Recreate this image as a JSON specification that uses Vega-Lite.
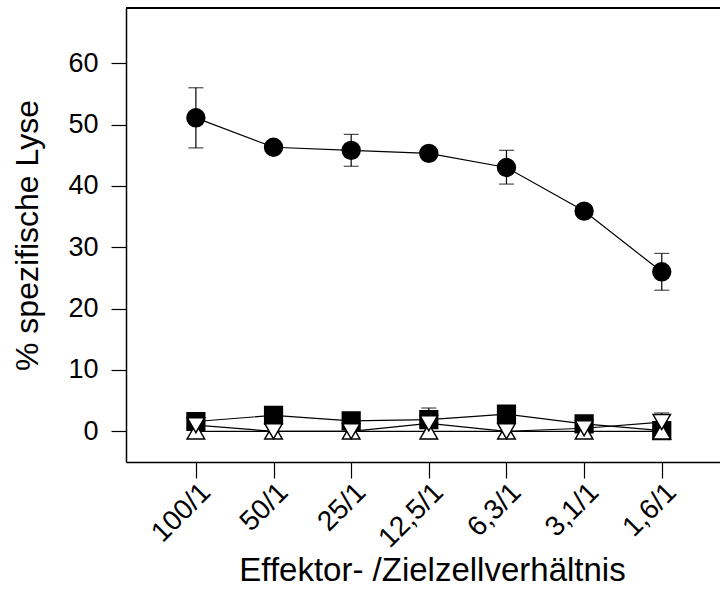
{
  "$schema": "https://vega.github.io/schema/vega-lite/v6.json",
  "width": 594,
  "height": 454,
  "autosize": {"type": "none"},
  "padding": {"left": 126, "top": 8, "right": 0, "bottom": 137},
  "background": "white",
  "config": {
    "view": {"stroke": null},
    "font": "Liberation Sans",
    "axis": {
      "grid": false,
      "domainColor": "black",
      "domainWidth": 1.5,
      "tickColor": "black",
      "tickWidth": 1.2,
      "labelColor": "black",
      "titleColor": "black",
      "titleFontWeight": "normal",
      "labelFont": "Liberation Sans",
      "titleFont": "Liberation Sans"
    }
  },
  "data": {
    "values": [
      {"series": "Serie 1", "pos": 1, "ratio": "100/1", "value": 51.1, "lo": 46.2, "hi": 56.0},
      {"series": "Serie 1", "pos": 2, "ratio": "50/1", "value": 46.3, "lo": null, "hi": null},
      {"series": "Serie 1", "pos": 3, "ratio": "25/1", "value": 45.8, "lo": 43.2, "hi": 48.4},
      {"series": "Serie 1", "pos": 4, "ratio": "12,5/1", "value": 45.3, "lo": null, "hi": null},
      {"series": "Serie 1", "pos": 5, "ratio": "6,3/1", "value": 43.0, "lo": 40.3, "hi": 45.8},
      {"series": "Serie 1", "pos": 6, "ratio": "3,1/1", "value": 35.9, "lo": null, "hi": null},
      {"series": "Serie 1", "pos": 7, "ratio": "1,6/1", "value": 26.0, "lo": 23.0, "hi": 29.0},
      {"series": "Serie 2", "pos": 1, "ratio": "100/1", "value": 1.6, "lo": null, "hi": null},
      {"series": "Serie 2", "pos": 2, "ratio": "50/1", "value": 2.6, "lo": null, "hi": null},
      {"series": "Serie 2", "pos": 3, "ratio": "25/1", "value": 1.7, "lo": null, "hi": null},
      {"series": "Serie 2", "pos": 4, "ratio": "12,5/1", "value": 1.9, "lo": null, "hi": null},
      {"series": "Serie 2", "pos": 5, "ratio": "6,3/1", "value": 2.8, "lo": null, "hi": null},
      {"series": "Serie 2", "pos": 6, "ratio": "3,1/1", "value": 1.2, "lo": null, "hi": null},
      {"series": "Serie 2", "pos": 7, "ratio": "1,6/1", "value": 0.1, "lo": null, "hi": null},
      {"series": "Serie 3", "pos": 1, "ratio": "100/1", "value": 0.0, "lo": null, "hi": null},
      {"series": "Serie 3", "pos": 2, "ratio": "50/1", "value": 0.0, "lo": null, "hi": null},
      {"series": "Serie 3", "pos": 3, "ratio": "25/1", "value": 0.0, "lo": null, "hi": null},
      {"series": "Serie 3", "pos": 4, "ratio": "12,5/1", "value": 0.0, "lo": null, "hi": null},
      {"series": "Serie 3", "pos": 5, "ratio": "6,3/1", "value": 0.0, "lo": null, "hi": null},
      {"series": "Serie 3", "pos": 6, "ratio": "3,1/1", "value": 0.0, "lo": null, "hi": null},
      {"series": "Serie 3", "pos": 7, "ratio": "1,6/1", "value": 0.0, "lo": null, "hi": null},
      {"series": "Serie 4", "pos": 1, "ratio": "100/1", "value": 1.0, "lo": null, "hi": null},
      {"series": "Serie 4", "pos": 2, "ratio": "50/1", "value": 0.0, "lo": null, "hi": null},
      {"series": "Serie 4", "pos": 3, "ratio": "25/1", "value": 0.0, "lo": null, "hi": null},
      {"series": "Serie 4", "pos": 4, "ratio": "12,5/1", "value": 1.3, "lo": -1.2, "hi": 3.8},
      {"series": "Serie 4", "pos": 5, "ratio": "6,3/1", "value": 0.0, "lo": null, "hi": null},
      {"series": "Serie 4", "pos": 6, "ratio": "3,1/1", "value": 0.5, "lo": null, "hi": null},
      {"series": "Serie 4", "pos": 7, "ratio": "1,6/1", "value": 1.5, "lo": 0.0, "hi": 3.0}
    ]
  },
  "encoding": {
    "x": {
      "field": "pos",
      "type": "quantitative",
      "scale": {"domain": [0.1, 7.75], "nice": false, "zero": false},
      "axis": {
        "orient": "bottom",
        "values": [1, 2, 3, 4, 5, 6, 7],
        "labelExpr": "['100/1','50/1','25/1','12,5/1','6,3/1','3,1/1','1,6/1'][datum.value-1]",
        "labelAngle": -45,
        "labelAlign": "right",
        "labelBaseline": "top",
        "labelFontSize": 28,
        "labelPadding": 0,
        "tickSize": 16,
        "title": "Effektor- /Zielzellverhältnis",
        "titleFontSize": 33,
        "titlePadding": 2,
        "titleX": 306
      }
    }
  },
  "layer": [
    {
      "mark": {"type": "rule", "color": "black", "strokeWidth": 1.5},
      "encoding": {
        "x": null,
        "y": {"datum": 69, "type": "quantitative"}
      }
    },
    {
      "mark": {"type": "line", "color": "black", "strokeWidth": 1.2},
      "encoding": {
        "y": {
          "field": "value",
          "type": "quantitative",
          "scale": {"domain": [-5, 69], "nice": false, "zero": false},
          "axis": {
            "values": [0, 10, 20, 30, 40, 50, 60],
            "labelFontSize": 27,
            "labelPadding": 13,
            "tickSize": 15,
            "title": "% spezifische Lyse",
            "titleFontSize": 32,
            "titlePadding": 23
          }
        },
        "detail": {"field": "series"}
      }
    },
    {
      "transform": [{"filter": "isValid(datum.lo)"}],
      "mark": {"type": "rule", "color": "black", "strokeWidth": 1.2},
      "encoding": {
        "y": {"field": "lo", "type": "quantitative"},
        "y2": {"field": "hi"}
      }
    },
    {
      "transform": [{"filter": "isValid(datum.lo)"}],
      "mark": {"type": "tick", "color": "black", "orient": "horizontal", "size": 15, "thickness": 1.2},
      "encoding": {
        "y": {"field": "lo", "type": "quantitative"}
      }
    },
    {
      "transform": [{"filter": "isValid(datum.hi)"}],
      "mark": {"type": "tick", "color": "black", "orient": "horizontal", "size": 15, "thickness": 1.2},
      "encoding": {
        "y": {"field": "hi", "type": "quantitative"}
      }
    },
    {
      "mark": {"type": "point", "stroke": "black", "strokeWidth": 1.5, "opacity": 1, "filled": false},
      "encoding": {
        "y": {"field": "value", "type": "quantitative"},
        "shape": {
          "field": "series",
          "type": "nominal",
          "scale": {"domain": ["Serie 1", "Serie 2", "Serie 3", "Serie 4"], "range": ["circle", "square", "triangle-up", "triangle-down"]},
          "legend": null
        },
        "fill": {
          "field": "series",
          "type": "nominal",
          "scale": {"domain": ["Serie 1", "Serie 2", "Serie 3", "Serie 4"], "range": ["black", "black", "white", "white"]},
          "legend": null
        },
        "size": {
          "field": "series",
          "type": "nominal",
          "scale": {"domain": ["Serie 1", "Serie 2", "Serie 3", "Serie 4"], "range": [320, 300, 380, 380]},
          "legend": null
        }
      }
    }
  ]
}
